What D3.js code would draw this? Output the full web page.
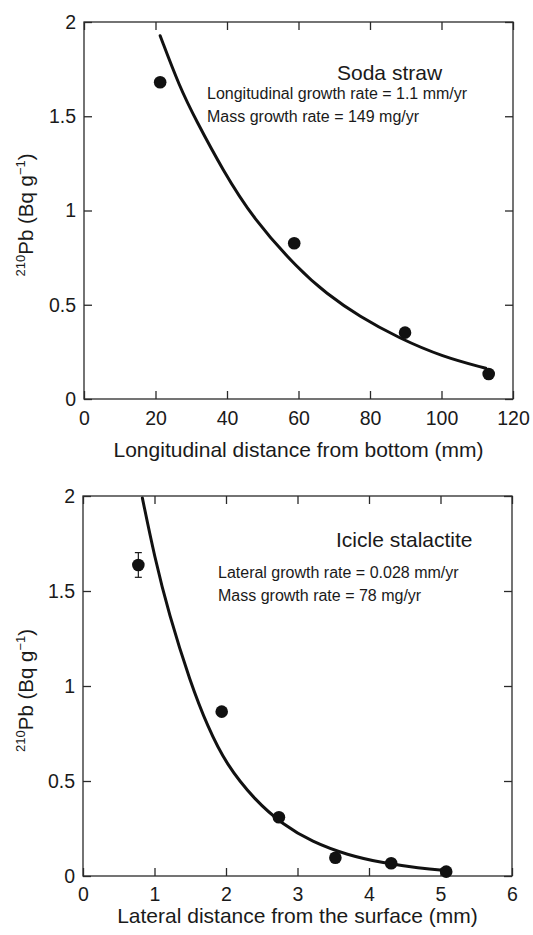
<!DOCTYPE html>
<html>
<head>
<meta charset="utf-8">
<script src="https://cdn.jsdelivr.net/npm/d3@7"></script>
<style>
  body { margin: 0; background: #fff; }
  text { font-family: "Liberation Sans", Arial, Helvetica, sans-serif; fill: #1a1a1a; }
</style>
</head>
<body>
<div id="chart"></div>
<script>
/**
 * constant variables
 */
const WIDTH = 533;
const HEIGHT = 935;
const TICK = 8;
const INK = "#1a1a1a";

// soda straw: measured points and fitted curve
const sodaDist = [21.3, 58.8, 89.8, 113.2];
const sodaPb = [1.68, 0.826, 0.352, 0.133];
const sodaFitDist = [21.3, 26.7, 31.3, 38.8, 47.2, 60.2, 67.7, 77.0, 88.2, 100.3, 112.4];
const sodaFitPb = [1.927, 1.657, 1.48, 1.215, 0.959, 0.684, 0.561, 0.437, 0.322, 0.224, 0.163];
const sodaXTicks = [0, 20, 40, 60, 80, 100, 120];

// icicle stalactite: measured points, error and fitted curve
const iceDist = [0.774, 1.94, 2.74, 3.53, 4.31, 5.08];
const icePb = [1.637, 0.865, 0.309, 0.096, 0.067, 0.023];
const iceErr = [0.065, 0, 0, 0, 0, 0];
const iceFitDist = [0.83, 1.0, 1.2, 1.5, 1.75, 2.0, 2.4, 2.8, 3.2, 3.7, 4.2, 4.7, 5.1];
const iceFitPb = [1.99, 1.68, 1.38, 1.02, 0.78, 0.59, 0.40, 0.27, 0.18, 0.11, 0.068, 0.042, 0.028];
const iceXTicks = [0, 1, 2, 3, 4, 5, 6];

const pbTicks = [0, 0.5, 1, 1.5, 2];

const svg = d3.select("#chart").append("svg")
    .attr("width", WIDTH)
    .attr("height", HEIGHT);

function drawPanel(p) {
    const x = d3.scaleLinear().domain(p.xDomain).range([p.left, p.right]);
    const y = d3.scaleLinear().domain([0, 2]).range([p.bottom, p.top]);
    const g = svg.append("g");

    // frame
    g.append("rect")
        .attr("x", p.left).attr("y", p.top)
        .attr("width", p.right - p.left).attr("height", p.bottom - p.top)
        .attr("fill", "none").attr("stroke", "#2a2a2a").attr("stroke-width", 1.3);

    const styleAxis = sel => {
        sel.select(".domain").remove();
        sel.selectAll(".tick line").attr("stroke", "#2a2a2a").attr("stroke-width", 1.3);
        sel.selectAll(".tick text")
            .attr("fill", INK)
            .style("font-size", "19.5px")
            .style("font-family", '"Liberation Sans", Arial, sans-serif');
    };

    g.append("g").attr("transform", `translate(0,${p.bottom})`)
        .call(d3.axisBottom(x).tickValues(p.xTicks).tickSizeInner(-TICK).tickSizeOuter(0)
            .tickPadding(p.xPad).tickFormat(d3.format("d")))
        .call(styleAxis);
    g.append("g").attr("transform", `translate(0,${p.top})`)
        .call(d3.axisTop(x).tickValues(p.xTicks).tickSizeInner(-TICK).tickSizeOuter(0).tickFormat(""))
        .call(styleAxis);
    g.append("g").attr("transform", `translate(${p.left},0)`)
        .call(d3.axisLeft(y).tickValues(pbTicks).tickSizeInner(-TICK).tickSizeOuter(0)
            .tickPadding(8).tickFormat(d => String(d)))
        .call(styleAxis);
    g.append("g").attr("transform", `translate(${p.right},0)`)
        .call(d3.axisRight(y).tickValues(pbTicks).tickSizeInner(-TICK).tickSizeOuter(0).tickFormat(""))
        .call(styleAxis);

    // fitted curve
    const line = d3.line()
        .x(d => x(d[0]))
        .y(d => y(d[1]))
        .curve(d3.curveBasis);
    g.append("path")
        .datum(p.fitX.map((d, i) => [d, p.fitY[i]]))
        .attr("d", line)
        .attr("fill", "none")
        .attr("stroke", "#111")
        .attr("stroke-width", 3)
        .attr("stroke-linecap", "round");

    // error bars
    const pts = p.dataX.map((d, i) => ({x: d, y: p.dataY[i], e: p.err ? p.err[i] : 0}));
    pts.filter(d => d.e > 0).forEach(d => {
        const cx = x(d.x);
        g.append("line").attr("x1", cx).attr("x2", cx)
            .attr("y1", y(d.y - d.e)).attr("y2", y(d.y + d.e))
            .attr("stroke", INK).attr("stroke-width", 1.2);
        [d.y - d.e, d.y + d.e].forEach(v => {
            g.append("line").attr("x1", cx - 3.5).attr("x2", cx + 3.5)
                .attr("y1", y(v)).attr("y2", y(v))
                .attr("stroke", INK).attr("stroke-width", 1.2);
        });
    });

    // points
    g.selectAll("circle.pt")
        .data(pts)
        .enter()
        .append("circle")
        .attr("class", "pt")
        .attr("cx", d => x(d.x))
        .attr("cy", d => y(d.y))
        .attr("r", 6.3)
        .attr("fill", "#111");

    // x title
    g.append("text")
        .attr("x", (p.left + p.right) / 2)
        .attr("y", p.xTitleY)
        .attr("text-anchor", "middle")
        .style("font-size", "21px")
        .text(p.xTitle);

    // y title, rotated, with superscripts
    const yt = g.append("text")
        .attr("transform", `translate(33,${(p.top + p.bottom) / 2 + 66}) rotate(-90)`)
        .style("font-size", "20.5px");
    yt.append("tspan").attr("dy", -8).style("font-size", "13px").text("210");
    yt.append("tspan").attr("dy", 8).text("Pb (Bq g");
    yt.append("tspan").attr("dy", -8).style("font-size", "13px").text("\u22121");
    yt.append("tspan").attr("dy", 8).text(")");

    // annotations
    g.append("text")
        .attr("x", p.nameX).attr("y", p.nameY)
        .style("font-size", "21px")
        .text(p.name);
    p.notes.forEach((t, i) => {
        g.append("text")
            .attr("x", p.noteX).attr("y", p.noteY + i * 22.5)
            .style("font-size", "16px")
            .text(t);
    });
}

drawPanel({
    xDomain: [0, 120], xTicks: sodaXTicks,
    left: 84, right: 513, top: 22, bottom: 399,
    xPad: 12, xTitleY: 457,
    xTitle: "Longitudinal distance from bottom (mm)",
    dataX: sodaDist, dataY: sodaPb,
    fitX: sodaFitDist, fitY: sodaFitPb,
    name: "Soda straw", nameX: 337, nameY: 80,
    notes: ["Longitudinal growth rate = 1.1 mm/yr", "Mass growth rate = 149 mg/yr"],
    noteX: 207, noteY: 99.3
});

drawPanel({
    xDomain: [0, 6], xTicks: iceXTicks,
    left: 83, right: 512, top: 496, bottom: 876,
    xPad: 11, xTitleY: 923,
    xTitle: "Lateral distance from the surface (mm)",
    dataX: iceDist, dataY: icePb, err: iceErr,
    fitX: iceFitDist, fitY: iceFitPb,
    name: "Icicle stalactite", nameX: 336, nameY: 546.5,
    notes: ["Lateral growth rate = 0.028 mm/yr", "Mass growth rate = 78 mg/yr"],
    noteX: 218, noteY: 578.3
});
</script>
</body>
</html>
